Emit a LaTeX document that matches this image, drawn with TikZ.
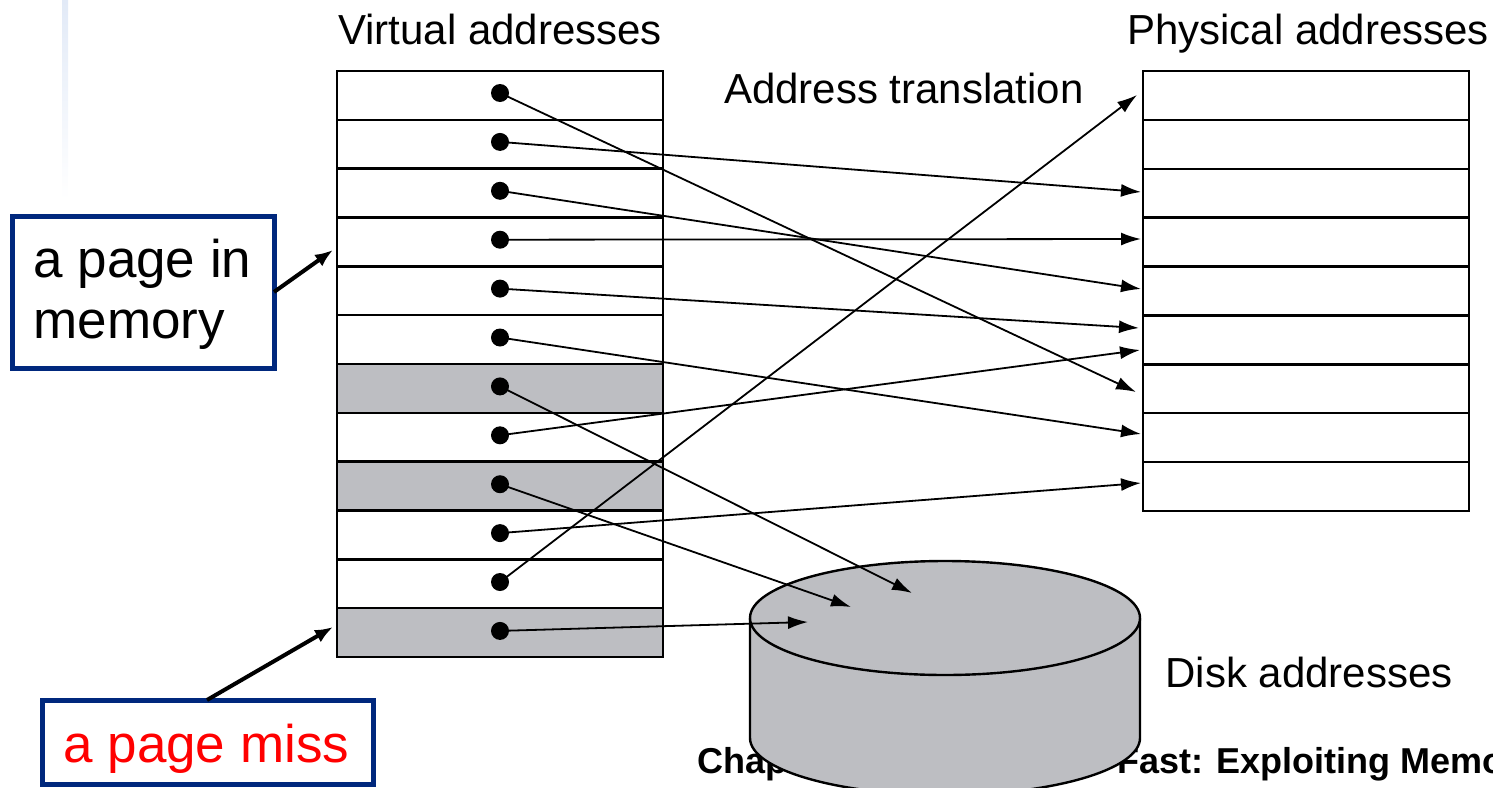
\documentclass[tikz,border=0pt]{standalone}
\usepackage{fontspec}
\setmainfont{Liberation Sans}
\usetikzlibrary{arrows.meta}
\definecolor{diskgray}{RGB}{189,190,194}
\definecolor{navy}{RGB}{0,40,125}
\definecolor{faintblue}{RGB}{226,234,247}
\begin{document}
\begin{tikzpicture}[x=0.5pt,y=-0.5pt,
  rowbox/.style={draw, line width=1.2pt, minimum width=163pt, minimum height=24.42pt, inner sep=0pt, outer sep=0pt, anchor=north west},
  dotnode/.style={circle, fill=black, inner sep=0pt, minimum size=9pt},
  conn/.style={line width=0.9pt, -{Latex[length=10pt,width=6.5pt]}, shorten <=-3pt},
  lbl/.style={font=\fontsize{21}{25}\selectfont, inner sep=0pt, anchor=base},
  callout/.style={draw=navy, line width=2.5pt, fill=white, inner sep=0pt},
  calltext/.style={font=\fontsize{26.5}{31.5}\selectfont, inner sep=0pt, anchor=base west},
  callarrow/.style={line width=2pt, -{Latex[length=9pt,width=7pt]}}]
\useasboundingbox (0,0) rectangle (1493,787);

% faint slide decoration
\shade[top color=faintblue, bottom color=white] (62,0) rectangle (68,200);

% footer (partly hidden behind the disk)
\node[anchor=base west, inner sep=0pt, font=\bfseries\fontsize{18}{20}\selectfont] (foot) at (697,773)
  {Chapter 5 — Large and\hspace{8pt} Fast: Exploiting Memory Hierarchy};

% titles
\node[lbl] (vt) at (500,44) {Virtual addresses};
\node[lbl] (pt) at (1308,44) {Physical addresses};
\node[lbl] (at) at (904,103) {Address translation};
\node[lbl] (dt) at (1309,687) {Disk addresses};

% virtual address table
\foreach \i/\f in {1/white,2/white,3/white,4/white,5/white,6/white,7/diskgray,8/white,9/diskgray,10/white,11/white,12/diskgray}{
  \node[rowbox, fill=\f] (v\i) at (337,{71+(\i-1)*48.83}) {};
}
% physical address table
\foreach \i in {1,...,9}{
  \node[rowbox] (p\i) at (1143,{71+(\i-1)*48.89}) {};
}

% disk
\fill[diskgray] (750,618) -- (750,738) arc[start angle=180,end angle=360,x radius=97.5pt,y radius=28.5pt] -- (1140,618) -- cycle;
\draw[line width=1.2pt] (750,618) -- (750,738) arc[start angle=180,end angle=360,x radius=97.5pt,y radius=28.5pt] -- (1140,618);
\draw[line width=1.2pt, fill=diskgray] (945,618) ellipse [x radius=97.5pt, y radius=28.5pt];

% dots
\foreach \i in {1,...,12}{
  \node[dotnode] (d\i) at (500,{93+(\i-1)*48.9}) {};
}

% arrow targets
\coordinate (t1) at (1136,392);
\coordinate (t2) at (1141,192);
\coordinate (t3) at (1141,289);
\coordinate (t4) at (1141,239);
\coordinate (t5) at (1139,328);
\coordinate (t6) at (1141,434);
\coordinate (t7) at (912,593);
\coordinate (t8) at (1140,350);
\coordinate (t9) at (851,607);
\coordinate (t10) at (1141,483);
\coordinate (t11) at (1137,95);
\coordinate (t12) at (808,622);

\foreach \i in {1,...,12}{
  \draw[conn] (d\i.center) -- (t\i);
}

% callouts
\draw[callout] (12,216) rectangle (274,368);
\node[calltext] (c1a) at (33,277) {a page in};
\node[calltext] (c1b) at (33,338) {memory};
\coordinate (c1) at (274,292);
\coordinate (c1t) at (333,250);
\draw[callarrow] (c1) -- (c1t);

\draw[callout] (42,700) rectangle (373,784);
\node[calltext, text=red] (c2a) at (63,762) {a page miss};
\coordinate (c2) at (207,700);
\coordinate (c2t) at (333,627);
\draw[callarrow] (c2) -- (c2t);
\end{tikzpicture}
\end{document}
